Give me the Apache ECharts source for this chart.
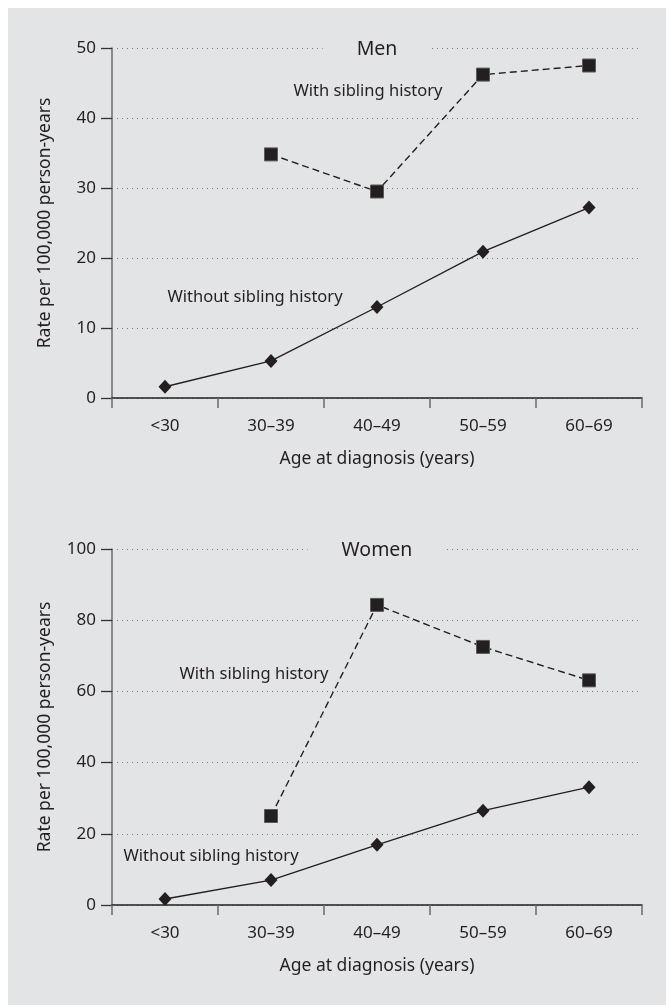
<!DOCTYPE html>
<html>
<head>
<meta charset="utf-8">
<script src="https://cdn.jsdelivr.net/npm/echarts@6/dist/echarts.min.js"></script>
<style>
html,body{margin:0;padding:0;background:#ffffff;}
#c{width:666px;height:1005px;}
</style>
</head>
<body>
<div id="c"></div>
<script>
// ---- data ----
const categories = ['<30', '30\u201339', '40\u201349', '50\u201359', '60\u201369'];
const menWith = [null, 34.8, 29.5, 46.2, 47.5];
const menWithout = [1.6, 5.3, 13.0, 20.9, 27.2];
const womenWith = [null, 25.0, 84.3, 72.5, 63.1];
const womenWithout = [1.7, 7.0, 16.9, 26.5, 33.1];
const menTicks = { min: 0, max: 50, interval: 10 };
const womenTicks = { min: 0, max: 100, interval: 20 };
const panelTitles = ['Men', 'Women'];
const withLabel = 'With sibling history';
const withoutLabel = 'Without sibling history';
const xName = 'Age at diagnosis (years)';
const yName = 'Rate per 100,000 person-years';

// ---- styles ----
const BG = '#e3e4e6';
const INK = '#231f20';
const FONT = 'Noto Sans';

const chart = echarts.init(document.getElementById('c'), null, { renderer: 'canvas' });

const grids = [
  { left: 112, width: 530, top: 48, height: 350 },
  { left: 112, width: 530, top: 549, height: 356 }
];

function xAxis(i) {
  return {
    type: 'category', gridIndex: i, data: categories, boundaryGap: true,
    name: xName, nameLocation: 'middle', nameGap: 52,
    nameTextStyle: { fontFamily: FONT, fontSize: 17.5, color: INK },
    axisLine: { lineStyle: { color: INK, width: 1.5 } },
    axisTick: { show: true, length: 10, inside: false, lineStyle: { color: '#6b6b6b', width: 1.5 } },
    axisLabel: { fontFamily: FONT, fontSize: 17, color: INK, margin: 20 },
    splitLine: { show: false }
  };
}
function yAxis(i, t) {
  return {
    type: 'value', gridIndex: i, min: t.min, max: t.max, interval: t.interval,
    name: yName, nameLocation: 'middle', nameGap: 58, nameRotate: 90,
    nameTextStyle: { fontFamily: FONT, fontSize: 17.5, color: INK },
    axisLine: { show: true, onZero: false, lineStyle: { color: '#6b6b6b', width: 1.5 } },
    axisTick: { show: true, length: 11, inside: false, lineStyle: { color: '#333', width: 1.3 } },
    axisLabel: { fontFamily: FONT, fontSize: 17, color: INK, margin: 16 },
    splitLine: { show: true, lineStyle: { color: '#7a7a7a', type: [1, 4], width: 1 } }
  };
}
function withSeries(i, data) {
  return {
    type: 'line', xAxisIndex: i, yAxisIndex: i, data: data, connectNulls: false,
    symbol: 'rect', symbolSize: 13,
    lineStyle: { color: INK, width: 1.4, type: [7, 4] },
    itemStyle: { color: INK, borderColor: '#5a5a5a', borderWidth: 1 },
    z: 5, animation: false
  };
}
function withoutSeries(i, data) {
  return {
    type: 'line', xAxisIndex: i, yAxisIndex: i, data: data,
    symbol: 'diamond', symbolSize: [13, 14],
    lineStyle: { color: INK, width: 1.4 },
    itemStyle: { color: INK },
    z: 5, animation: false
  };
}
function txt(x, y, s, size, extra) {
  return {
    type: 'text', x: x, y: y, z: 10,
    style: Object.assign({ text: s, fill: INK, font: size + 'px "' + FONT + '"', textAlign: 'center', textVerticalAlign: 'middle' }, extra || {})
  };
}

chart.setOption({
  animation: false,
  backgroundColor: '#ffffff',
  grid: grids,
  xAxis: [xAxis(0), xAxis(1)],
  yAxis: [yAxis(0, menTicks), yAxis(1, womenTicks)],
  series: [
    withSeries(0, menWith), withoutSeries(0, menWithout),
    withSeries(1, womenWith), withoutSeries(1, womenWithout)
  ],
  graphic: [
    { type: 'rect', shape: { x: 8, y: 8, width: 658, height: 997 }, style: { fill: BG }, z: -100, silent: true },
    txt(377, 49, panelTitles[0], 19.5, { backgroundColor: BG, padding: [3, 34] }),
    txt(377, 550, panelTitles[1], 19.5, { backgroundColor: BG, padding: [3, 34] }),
    txt(368, 91, withLabel, 16.5),
    txt(255, 297, withoutLabel, 16.5),
    txt(254, 674, withLabel, 16.5),
    txt(211, 856, withoutLabel, 16.5)
  ]
});
</script>
</body>
</html>
